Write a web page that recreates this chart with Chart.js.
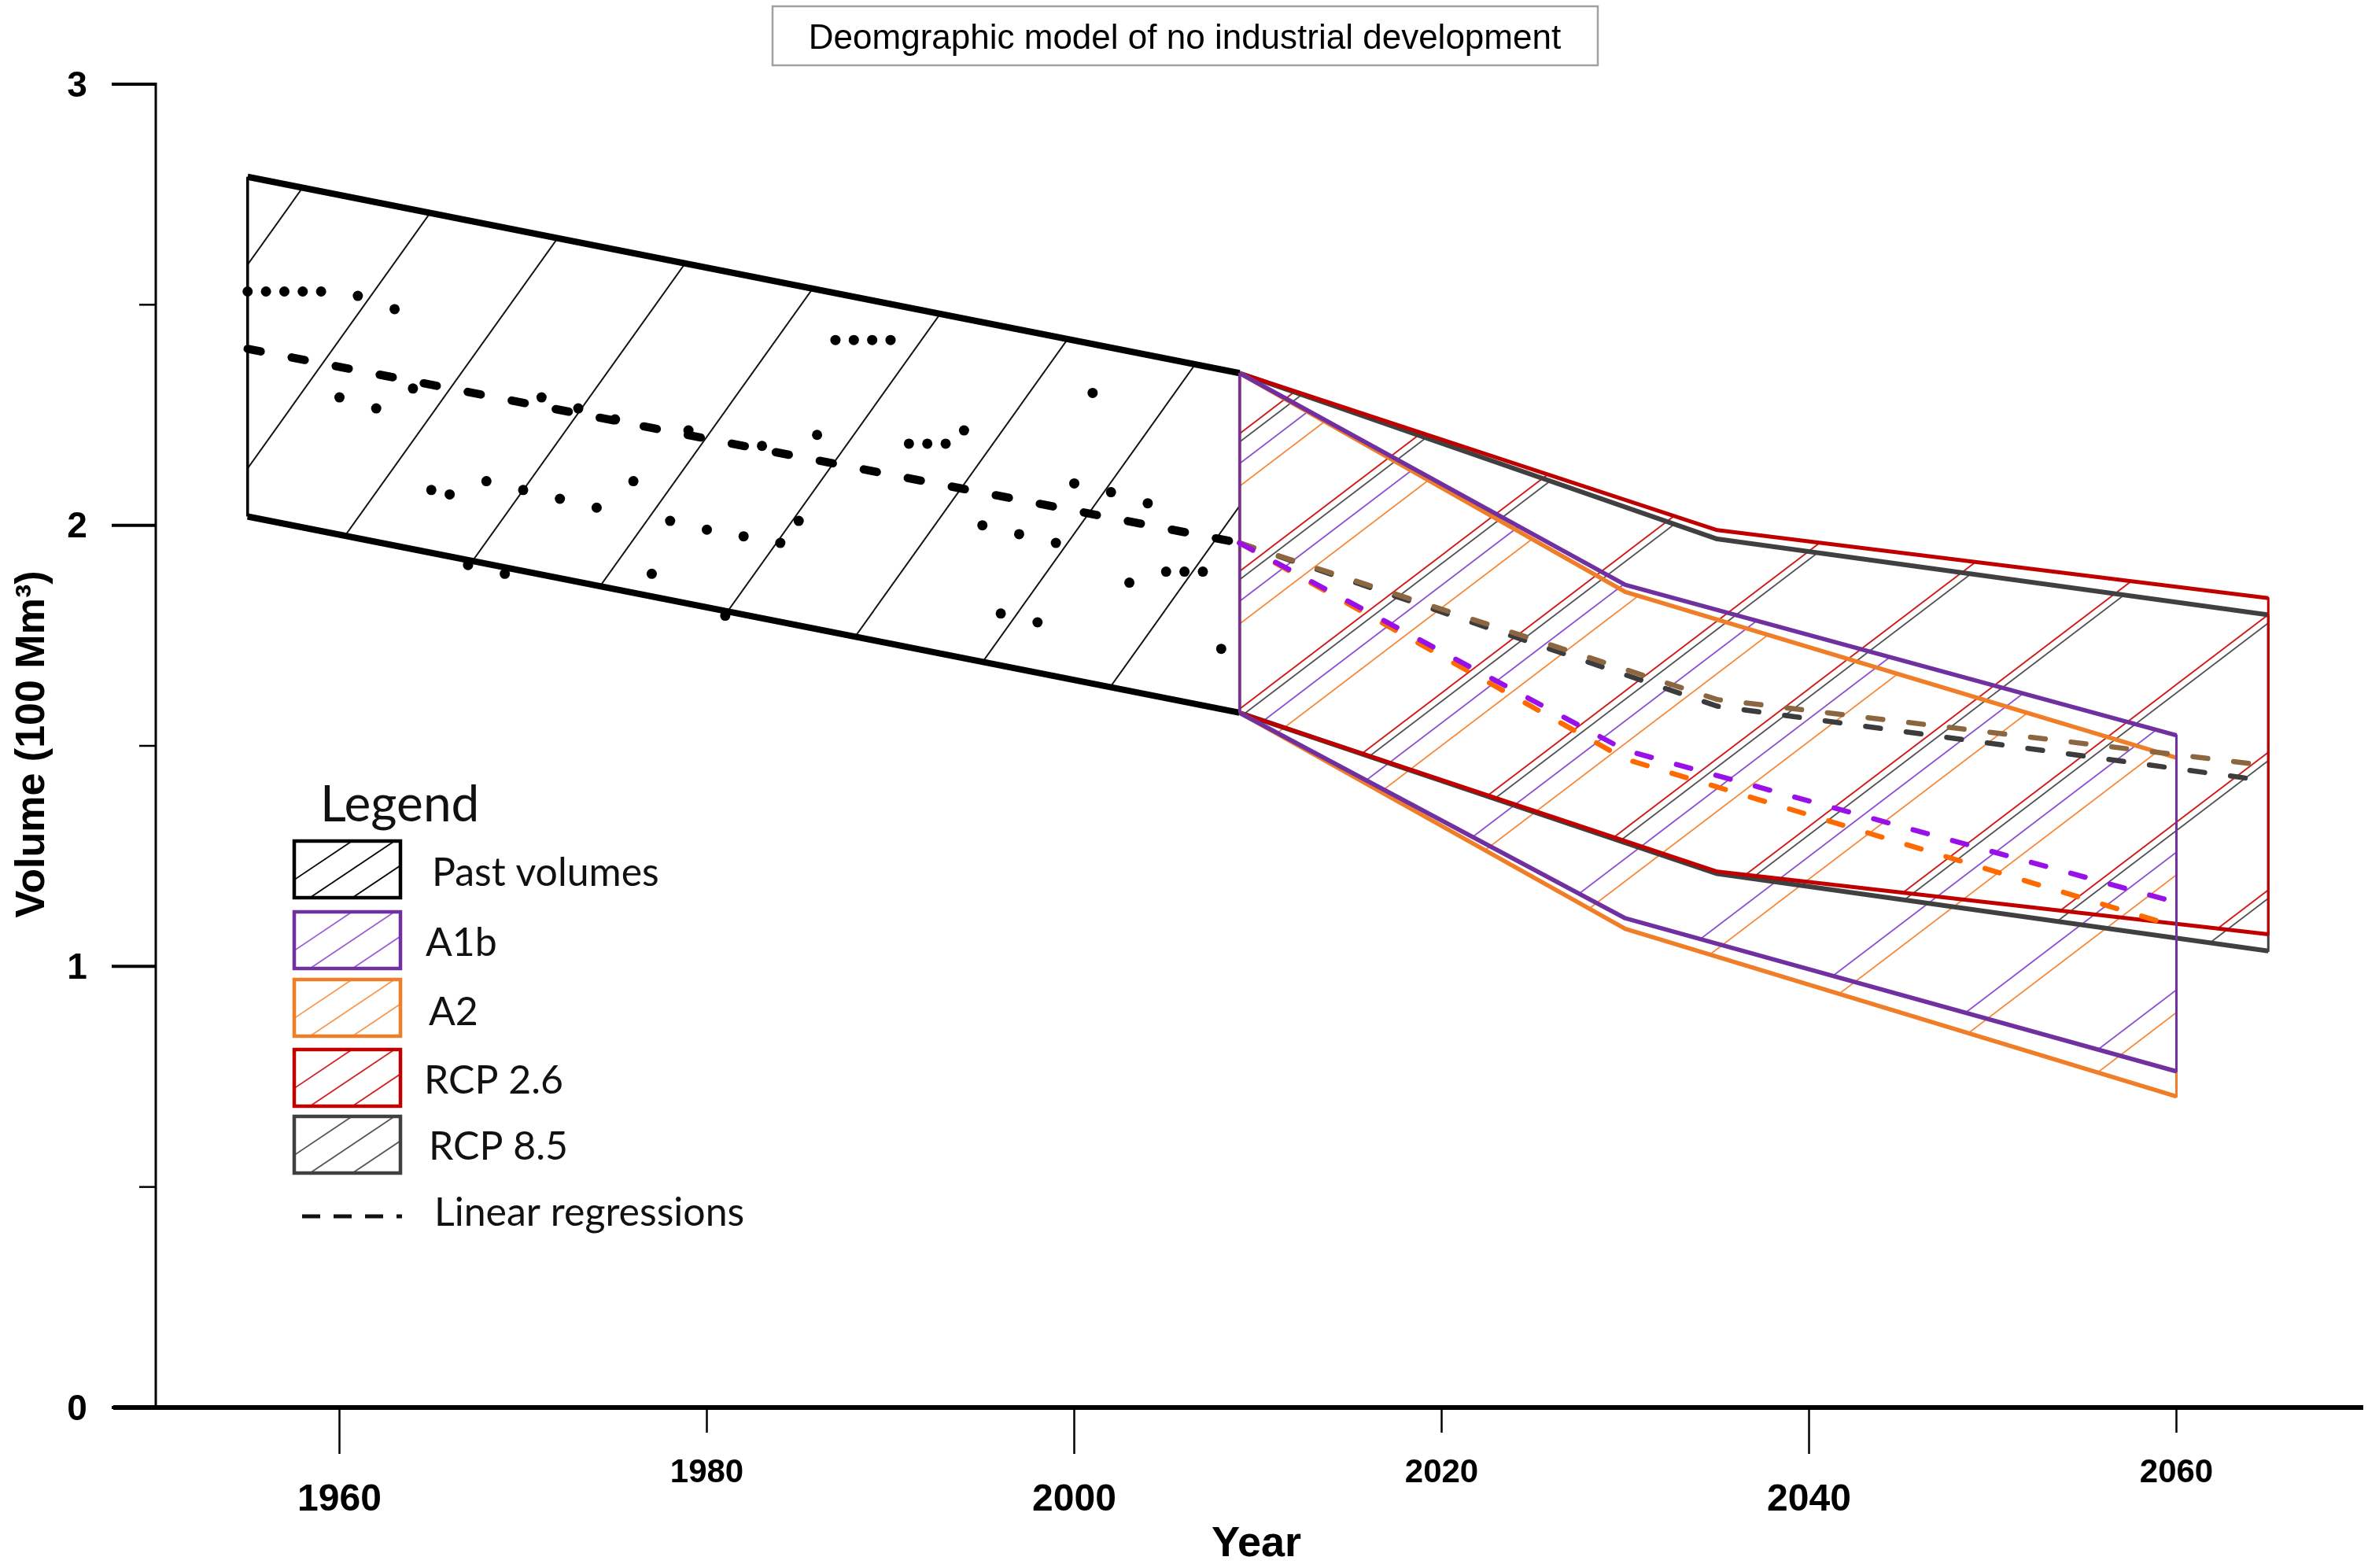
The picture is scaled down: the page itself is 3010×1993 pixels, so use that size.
<!DOCTYPE html>
<html>
<head>
<meta charset="utf-8">
<script src="https://cdn.jsdelivr.net/npm/chart.js@4/dist/chart.umd.min.js"></script>
<style>
  html, body { margin: 0; padding: 0; background: #fff; overflow: hidden; }
  #wrap { width: 3010px; height: 1993px; position: relative; }
</style>
</head>
<body>
<div id="wrap"><canvas id="volumeChart"></canvas></div>
<script>
// yearly volumes (100 Mm3)
const pastYears = [1955, 1956, 1957, 1958, 1959, 1960, 1961, 1962, 1963, 1964,
                   1965, 1966, 1967, 1968, 1969, 1970, 1971, 1972, 1973, 1974,
                   1975, 1976, 1977, 1978, 1979, 1980, 1981, 1982, 1983, 1984,
                   1985, 1986, 1987, 1988, 1989, 1990, 1991, 1992, 1993, 1994,
                   1995, 1996, 1997, 1998, 1999, 2000, 2001, 2002, 2003, 2004,
                   2005, 2006, 2007, 2008];
const pastVolumes = [2.53, 2.53, 2.53, 2.53, 2.53, 2.29, 2.52, 2.265, 2.49, 2.31,
                     2.08, 2.07, 1.91, 2.10, 1.89, 2.08, 2.29, 2.06, 2.265, 2.04,
                     2.24, 2.10, 1.89, 2.01, 2.215, 1.99, 1.795, 1.975, 2.18, 1.96,
                     2.01, 2.205, 2.42, 2.42, 2.42, 2.42, 2.185, 2.185, 2.185, 2.215,
                     2.00, 1.80, 1.98, 1.78, 1.96, 2.095, 2.30, 2.075, 1.87, 2.05,
                     1.895, 1.895, 1.895, 1.72];

// envelope of past volumes
const pastBandYears = [1955, 2009];
const pastUpper = [2.79, 2.345];
const pastLower = [2.02, 1.575];
const pastTrendYears = [1955, 2009];
const pastTrend = [2.40, 1.96];

// scenario envelopes and their regressions
const a1bYears = [2009, 2030, 2060];
const a1bUpper = [2.345, 1.865, 1.524];
const a1bLower = [1.575, 1.109, 0.762];
const a1bTrend = [1.96, 1.49, 1.145];

const a2Years = [2009, 2030, 2060];
const a2Upper = [2.345, 1.849, 1.473];
const a2Lower = [1.575, 1.085, 0.705];
const a2Trend = [1.96, 1.47, 1.09];

const rcp26Years = [2009, 2035, 2065];
const rcp26Upper = [2.345, 1.989, 1.835];
const rcp26Lower = [1.575, 1.215, 1.073];
const rcp26Trend = [1.96, 1.605, 1.455];

const rcp85Years = [2009, 2035, 2065];
const rcp85Upper = [2.345, 1.969, 1.797];
const rcp85Lower = [1.575, 1.21, 1.035];
const rcp85Trend = [1.96, 1.59, 1.42];

// axes and legend text
const xTickYears = [1960, 1980, 2000, 2020, 2040, 2060];
const yMajorTicks = [0, 1, 2, 3];
const yMinorTicks = [0.5, 1.5, 2.5];
const legendLabels = ['Past volumes', 'A1b', 'A2', 'RCP 2.6', 'RCP 8.5'];
const chartTitle = 'Deomgraphic model of no industrial development';

function pts(xs, ys) {
    return xs.map((x, i) => ({ x: x, y: ys[i] }));
}

// closed outline: lower-left corner, along the top, back along the bottom
function outline(xs, upper, lower) {
    return [{ x: xs[0], y: lower[0] }].concat(pts(xs, upper), pts(xs, lower).reverse());
}

// diagonal hatching as a repeating pattern
function hatch(color, spacing, rise, offset, width) {
    const c = document.createElement('canvas');
    c.width = spacing;
    c.height = rise;
    const g = c.getContext('2d');
    g.strokeStyle = color;
    g.lineWidth = width;
    for (let k = -1; k <= 1; k++) {
        const x0 = offset + k * spacing;
        g.beginPath();
        g.moveTo(x0 - spacing / 2, rise * 1.5);
        g.lineTo(x0 + spacing * 1.5, -rise / 2);
        g.stroke();
    }
    return g.createPattern(c, 'repeat');
}

const bands = [
    { xs: a1bYears, up: a1bUpper, lo: a1bLower, edge: '#7030a0', hatch: hatch('#8a4fd0', 230, 175, 50, 1.8), w: 5.5, side: 3 },
    { xs: a2Years, up: a2Upper, lo: a2Lower, edge: '#f07d28', hatch: hatch('#f58a3c', 230, 175, 88, 1.8), w: 5.5, side: 3 },
    { xs: rcp26Years, up: rcp26Upper, lo: rcp26Lower, edge: '#c00000', hatch: hatch('#d01818', 230, 175, 0, 1.8), w: 5, side: 3 },
    { xs: rcp85Years, up: rcp85Upper, lo: rcp85Lower, edge: '#404040', hatch: hatch('#505050', 230, 175, 14, 1.8), w: 6, side: 3 },
    { xs: pastBandYears, up: pastUpper, lo: pastLower, edge: '#000000', hatch: hatch('#111111', 185, 259, 0, 1.9), w: 8, side: 3.5 }
];

const datasets = [];

// points and regressions first so they sit on top
datasets.push({
    data: pts(pastYears, pastVolumes),
    showLine: false,
    pointRadius: 6.5,
    pointBackgroundColor: '#000',
    pointBorderWidth: 0,
    order: 1
});

const trends = [
    { xs: pastTrendYears, ys: pastTrend, color: '#000000', width: 10.5, dash: [17, 40] },
    { xs: a1bYears, ys: a1bTrend, color: '#9a10e8', width: 6.5, dash: [19, 33] },
    { xs: a2Years, ys: a2Trend, color: '#ff6a00', width: 6.5, dash: [19, 33] },
    { xs: rcp26Years, ys: rcp26Trend, color: '#8b6640', width: 6.5, dash: [19, 33] },
    { xs: rcp85Years, ys: rcp85Trend, color: '#3c3c3c', width: 6.5, dash: [19, 33] }
];
trends.forEach(t => {
    datasets.push({
        data: pts(t.xs, t.ys),
        borderColor: t.color,
        borderWidth: t.width,
        borderDash: t.dash,
        borderCapStyle: 'round',
        pointRadius: 0,
        fill: false,
        order: 2
    });
});

bands.forEach(b => {
    datasets.push({
        data: outline(b.xs, b.up, b.lo),
        borderColor: b.edge,
        borderWidth: b.w,
        borderJoinStyle: 'round',
        pointRadius: 0,
        fill: false,
        order: 5,
        segment: {
            borderWidth: ctx => ctx.p0.parsed.x === ctx.p1.parsed.x ? b.side : b.w
        }
    });
});

bands.forEach(b => {
    datasets.push({
        data: pts(b.xs, b.up),
        borderWidth: 0,
        borderColor: 'rgba(0,0,0,0)',
        pointRadius: 0,
        fill: '+1',
        backgroundColor: b.hatch,
        order: 10
    });
    datasets.push({
        data: pts(b.xs, b.lo),
        borderWidth: 0,
        borderColor: 'rgba(0,0,0,0)',
        pointRadius: 0,
        fill: false,
        order: 10
    });
});

const legendColors = ['#000000', '#7030a0', '#f07d28', '#c00000', '#404040'];
const legendHatchColors = ['#000000', '#9b5fd6', '#f59a55', '#d42020', '#555555'];

function drawLegend(ctx) {
    ctx.save();
    ctx.fillStyle = '#111';
    ctx.textAlign = 'left';
    ctx.textBaseline = 'alphabetic';

    ctx.font = '60px Lato';
    let w = ctx.measureText('Legend').width;
    ctx.font = Math.round(60 * 204 / w) + 'px Lato';
    ctx.fillText('Legend', 407, 1044);

    ctx.font = '50px Lato';
    w = ctx.measureText('Past volumes').width;
    const size = Math.round(50 * 291 / w);
    ctx.font = size + 'px Lato';

    const boxTops = [1069, 1159, 1245, 1334, 1419];
    const textX = [549, 541, 545, 539, 545];
    const baselines = [1126, 1215, 1303, 1390, 1474];
    legendLabels.forEach((label, i) => {
        const bx = 374, by = boxTops[i], bw = 135, bh = 72;
        ctx.save();
        ctx.beginPath();
        ctx.rect(bx, by, bw, bh);
        ctx.clip();
        ctx.strokeStyle = legendHatchColors[i];
        ctx.lineWidth = 1.8;
        [-34, 20, 74].forEach(off => {
            ctx.beginPath();
            ctx.moveTo(bx + off, by + bh);
            ctx.lineTo(bx + off + 140, by + bh - 140 * 0.67);
            ctx.stroke();
        });
        ctx.restore();
        ctx.strokeStyle = legendColors[i];
        ctx.lineWidth = 4.5;
        ctx.strokeRect(bx, by, bw, bh);
        ctx.fillStyle = '#111';
        ctx.fillText(label, textX[i], baselines[i]);
    });

    // dashed sample for the regressions
    ctx.strokeStyle = '#111';
    ctx.lineWidth = 5;
    ctx.setLineDash([23, 17]);
    ctx.beginPath();
    ctx.moveTo(384, 1546);
    ctx.lineTo(511, 1546);
    ctx.stroke();
    ctx.setLineDash([]);
    ctx.fillText('Linear regressions', 552, 1558);
    ctx.restore();
}

const decorations = {
    id: 'decorations',
    afterDraw(chart) {
        const ctx = chart.ctx;
        const xs = chart.scales.x;
        const ys = chart.scales.y;
        const axisX = xs.getPixelForValue(1950);
        const axisY = ys.getPixelForValue(0);
        const topY = ys.getPixelForValue(3);

        ctx.save();
        ctx.strokeStyle = '#000';
        ctx.lineCap = 'butt';

        // y axis
        ctx.lineWidth = 3;
        ctx.beginPath();
        ctx.moveTo(axisX, topY - 2);
        ctx.lineTo(axisX, axisY);
        ctx.stroke();

        yMajorTicks.forEach(v => {
            const y = ys.getPixelForValue(v);
            ctx.lineWidth = 4;
            ctx.beginPath();
            ctx.moveTo(axisX - 56, y);
            ctx.lineTo(axisX, y);
            ctx.stroke();
        });
        yMinorTicks.forEach(v => {
            const y = ys.getPixelForValue(v);
            ctx.lineWidth = 2.5;
            ctx.beginPath();
            ctx.moveTo(axisX - 21, y);
            ctx.lineTo(axisX, y);
            ctx.stroke();
        });

        // x axis
        ctx.lineWidth = 6;
        ctx.beginPath();
        ctx.moveTo(axisX - 54, axisY);
        ctx.lineTo(xs.right + 4, axisY);
        ctx.stroke();

        ctx.fillStyle = '#000';
        ctx.textAlign = 'center';
        xTickYears.forEach((yr, i) => {
            const x = xs.getPixelForValue(yr);
            const long = i % 2 === 0;
            ctx.lineWidth = 2.5;
            ctx.beginPath();
            ctx.moveTo(x, axisY);
            ctx.lineTo(x, axisY + (long ? 59 : 32));
            ctx.stroke();
            ctx.font = long ? 'bold 48px "Liberation Sans", Arial' : 'bold 42px "Liberation Sans", Arial';
            ctx.textBaseline = 'alphabetic';
            ctx.fillText(String(yr), x, long ? 1920 : 1884);
        });

        ctx.font = 'bold 46px "Liberation Sans", Arial';
        ctx.textBaseline = 'middle';
        yMajorTicks.forEach(v => {
            ctx.fillText(String(v), 98, ys.getPixelForValue(v) + 3);
        });

        // axis titles
        ctx.font = 'bold 54px "Liberation Sans", Arial';
        ctx.textBaseline = 'alphabetic';
        ctx.fillText('Year', 1597, 1978);

        ctx.save();
        ctx.translate(42, 946);
        ctx.rotate(-Math.PI / 2);
        ctx.font = 'bold 52px "Liberation Sans", Arial';
        ctx.textBaseline = 'middle';
        ctx.fillText('Volume (100 Mm³)', 0, 0);
        ctx.restore();

        // boxed title
        ctx.fillStyle = '#fff';
        ctx.fillRect(982, 8, 1049, 75);
        ctx.strokeStyle = '#a0a0a0';
        ctx.lineWidth = 2.5;
        ctx.strokeRect(982, 8, 1049, 75);
        ctx.fillStyle = '#000';
        ctx.font = '44px "Liberation Sans", Arial';
        ctx.textBaseline = 'alphabetic';
        ctx.fillText(chartTitle, 1506, 62);
        ctx.restore();

        drawLegend(ctx);
    }
};

new Chart(document.getElementById('volumeChart'), {
    type: 'line',
    data: { datasets: datasets },
    options: {
        responsive: true,
        maintainAspectRatio: false,
        devicePixelRatio: 1,
        animation: false,
        events: [],
        layout: { padding: { top: 107, right: 10, left: 0, bottom: 0 } },
        elements: { line: { tension: 0 } },
        plugins: {
            legend: { display: false },
            tooltip: { enabled: false },
            title: { display: false }
        },
        scales: {
            x: {
                type: 'linear',
                min: 1950,
                max: 2070,
                ticks: { display: false },
                grid: { display: false, drawTicks: false },
                border: { display: false },
                afterFit: scale => { scale.height = 204; }
            },
            y: {
                min: 0,
                max: 3,
                ticks: { display: false },
                grid: { display: false, drawTicks: false },
                border: { display: false },
                afterFit: scale => { scale.width = 198; }
            }
        }
    },
    plugins: [decorations]
});
</script>
</body>
</html>
